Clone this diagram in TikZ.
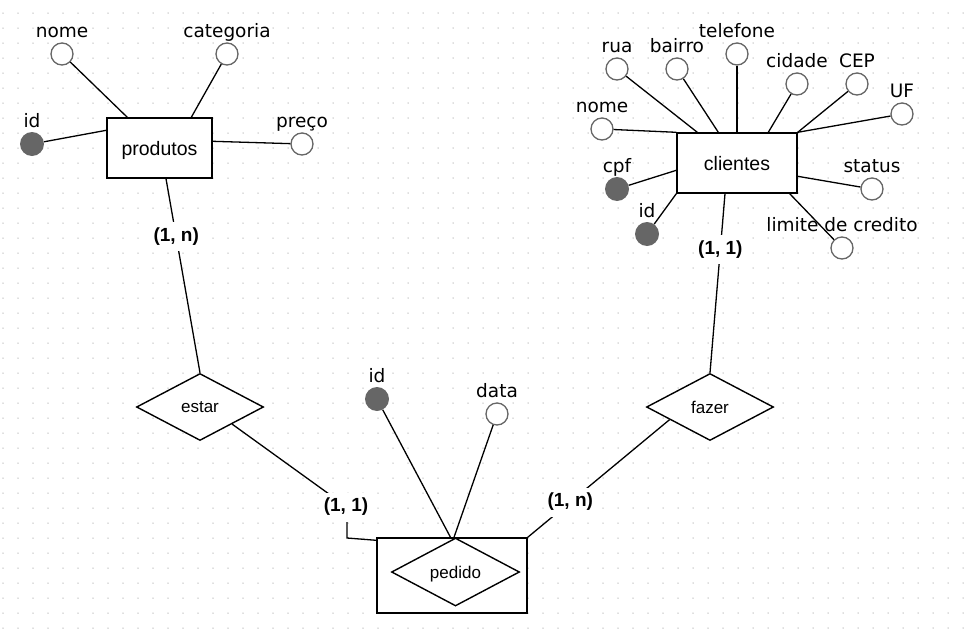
\documentclass[tikz,border=0pt]{standalone}
\usepackage{fontspec}
\setmainfont{Liberation Sans}
\newfontfamily\attrfont{DejaVu Sans}
\usetikzlibrary{calc,shapes.geometric}
\definecolor{gridDot}{HTML}{BEBEBE}
\definecolor{keyFill}{HTML}{666666}
\definecolor{ringLine}{HTML}{666666}

\begin{document}
\begin{tikzpicture}[x=1pt,y=-1pt,
  entity/.style={rectangle,draw=black,line width=1.4pt,fill=white,inner sep=0pt,
    text depth=0pt,font=\fontsize{19.5}{22}\selectfont},
  relation/.style={diamond,draw=black,line width=1.4pt,fill=white,inner sep=0pt,
    text depth=0pt,font=\fontsize{17}{20}\selectfont},
  attr/.style={circle,draw=ringLine,line width=1.3pt,fill=white,minimum size=22pt,inner sep=0pt},
  keyattr/.style={circle,fill=keyFill,minimum size=24pt,inner sep=0pt},
  attrname/.style={anchor=base,inner sep=0pt,font=\attrfont\fontsize{18.5}{22}\selectfont},
  link/.style={draw=black,line width=1.3pt},
  card/.style={fill=white,inner xsep=2pt,inner ysep=0pt,minimum height=29pt,
    font=\bfseries\fontsize{19}{22}\selectfont},
]
\useasboundingbox (0,0) rectangle (975,640);

% dotted background grid
\foreach \i in {0,...,64}
  \foreach \j in {0,...,41}
    \fill[gridDot] (3+15*\i,13+15*\j) circle[radius=0.75pt];

% ---------- produtos ----------
\node[entity,minimum width=105pt,minimum height=60pt] (produtos) at (159.5,148) {produtos};

\node[attr] (pNome) at (62,54) {};
\node[attrname] (pNomeT) at (62,37.5) {nome};
\node[attr] (pCat) at (227,54) {};
\node[attrname] (pCatT) at (227,37.5) {categoria};
\node[keyattr] (pId) at (32,144) {};
\node[attrname] (pIdT) at (32,127.5) {id};
\node[attr] (pPreco) at (302,144) {};
\node[attrname] (pPrecoT) at (302,127.5) {preço};

\draw[link] (pNome) -- ($(produtos.north west)+(21,0)$);
\draw[link] (pCat) -- ($(produtos.north west)+(85,0)$);
\draw[link] (pId) -- ($(produtos.north west)+(0,13)$);
\draw[link] (pPreco) -- ($(produtos.north east)+(0,24)$);

% ---------- clientes ----------
\node[entity,minimum width=120pt,minimum height=60pt] (clientes) at (737,163) {clientes};

\node[attr] (cRua) at (617,69) {};
\node[attrname] (cRuaT) at (617,52.5) {rua};
\node[attr] (cBairro) at (677,69) {};
\node[attrname] (cBairroT) at (677,52.5) {bairro};
\node[attr] (cTel) at (737,54) {};
\node[attrname] (cTelT) at (737,37.5) {telefone};
\node[attr] (cCidade) at (797,84) {};
\node[attrname] (cCidadeT) at (797,67.5) {cidade};
\node[attr] (cCep) at (857,84) {};
\node[attrname] (cCepT) at (857,67.5) {CEP};
\node[attr] (cUf) at (902,114) {};
\node[attrname] (cUfT) at (902,97.5) {UF};
\node[attr] (cNome) at (602,129) {};
\node[attrname] (cNomeT) at (602,112.5) {nome};
\node[keyattr] (cCpf) at (617,189) {};
\node[attrname] (cCpfT) at (617,172.5) {cpf};
\node[keyattr] (cId) at (647,234) {};
\node[attrname] (cIdT) at (647,217.5) {id};
\node[attr] (cStatus) at (872,189) {};
\node[attrname] (cStatusT) at (872,172.5) {status};
\node[attr] (cLimite) at (842,248) {};

\draw[link] (cRua) -- ($(clientes.north west)+(21,0)$);
\draw[link] (cBairro) -- ($(clientes.north west)+(42,0)$);
\draw[link] (cTel) -- (clientes.north);
\draw[link] (cCidade) -- ($(clientes.north west)+(92,0)$);
\draw[link] (cCep) -- (clientes.north east);
\draw[link] (cUf) -- (clientes.north east);
\draw[link] (cNome) -- (clientes.north west);
\draw[link] (cCpf) -- ($(clientes.north west)+(0,38)$);
\draw[link] (cId) -- (clientes.south west);
\draw[link] (cStatus) -- ($(clientes.north east)+(0,44)$);
\draw[link] (cLimite) -- ($(clientes.south east)+(-8,0)$);
\node[attrname] (cLimiteT) at (842,231.5) {limite de credito};

% ---------- relationships ----------
\node[relation,minimum width=127pt,minimum height=67pt] (estar) at (200,407) {estar};
\node[relation,minimum width=127pt,minimum height=67pt] (fazer) at (710,407) {fazer};

% associative entity pedido
\node[entity,minimum width=150pt,minimum height=75pt] (pedidoBox) at (452,575.5) {};
\node[relation,minimum width=128pt,minimum height=68pt] (pedido) at (455.5,572) {pedido};

\node[keyattr] (dId) at (377,399) {};
\node[attrname] (dIdT) at (377,382.5) {id};
\node[attr] (dData) at (497,414) {};
\node[attrname] (dDataT) at (497,397.5) {data};
\draw[link] (dId) -- ($(pedido.north)+(-5,0)$);
\draw[link] (dData) -- ($(pedido.north)+(-1.5,0)$);

% ---------- connectors with cardinalities ----------
\draw[link] ($(produtos.south)+(6.5,0)$) -- node[card,pos=0.3] (cardPE) {(1, n)} (estar.north);
\draw[link] ($(clientes.south)+(-12,0)$) -- node[card,pos=0.31] (cardCF) {(1, 1)} (fazer.north);

\coordinate (bendA) at (347,507);
\draw[link] ($(estar.east)!0.5!(estar.south)$) -- (bendA) -- (347,538)
  -- ($(pedidoBox.north west)+(0,3)$);
\node[card] (cardEP) at (346,507) {(1, 1)};

\draw[link] (pedidoBox.north east) -- node[card,pos=0.3] (cardPF) {(1, n)}
  ($(fazer.west)!0.37!(fazer.south)$);
\end{tikzpicture}
\end{document}
